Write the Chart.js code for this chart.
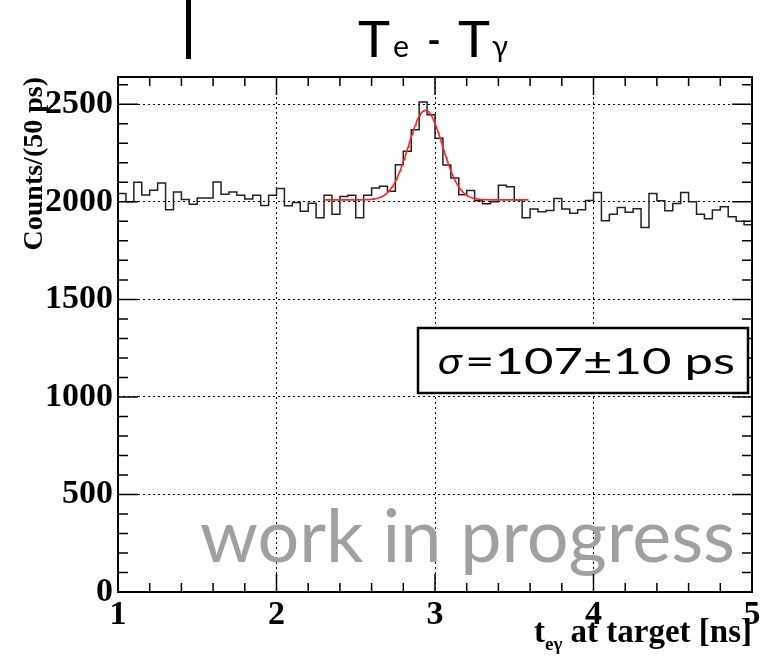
<!DOCTYPE html>
<html>
<head>
<meta charset="utf-8">
<script src="https://cdn.jsdelivr.net/npm/chart.js@4.4.1/dist/chart.umd.min.js"></script>
<style>
  html, body { margin: 0; padding: 0; background: #fff; }
  #wrap { width: 766px; height: 656px; }
</style>
</head>
<body>
<div id="wrap"><canvas id="c" width="766" height="656"></canvas></div>
<script>
// t_eγ at target, 50 ps bins from 1 to 5 ns
const binStart = 1.0;
const binWidth = 0.05;
const counts = [
  2043, 2000, 2100, 2035, 2060, 2097, 1960, 2050, 2012, 1988,
  2020, 2020, 2102, 2039, 2050, 2034, 2014, 2034, 1981, 2034,
  2068, 1980, 1997, 1952, 1993, 1918, 2034, 1937, 2027, 2034,
  1918, 2034, 2071, 2080, 2054, 2190, 2260, 2370, 2512, 2447,
  2326, 2189, 2122, 2036, 2058, 2005, 1990, 2000, 2085, 2077,
  2010, 1918, 1963, 1949, 1956, 2017, 1963, 1941, 1959, 2007,
  2048, 1903, 1937, 1971, 1947, 1964, 1869, 2043, 2005, 1954,
  1991, 2048, 2000, 1937, 1913, 1958, 1975, 1924, 1900, 1883
];

// gaussian + flat background fit
const fitRange = [2.3, 3.59];
const fitConst = 2010;
const fitAmp = 459;
const fitMean = 2.94;
const fitSigma = 0.107; // ns, quoted as 107 ps

const xTicks = [1, 2, 3, 4, 5];
const yTicks = [0, 500, 1000, 1500, 2000, 2500];
const xMinorStep = 0.2;
const yMinorStep = 100;
const yMax = 2640;

// histogram outline: one point per left bin edge, plus the closing edge
const histPoints = counts.map((c, i) => ({ x: binStart + i * binWidth, y: c }));
histPoints.push({ x: binStart + counts.length * binWidth, y: counts[counts.length - 1] });

const fitPoints = [];
for (let x = fitRange[0]; x <= fitRange[1] + 1e-9; x += 0.005) {
  const d = (x - fitMean) / fitSigma;
  fitPoints.push({ x: x, y: fitConst + fitAmp * Math.exp(-0.5 * d * d) });
}

const serif = '"Liberation Serif", "Times New Roman", serif';
const sans = 'Lato, "DejaVu Sans", sans-serif';

// draw text squeezed/stretched horizontally to a given width
function fitText(ctx, text, x, y, width) {
  const w = ctx.measureText(text).width;
  ctx.save();
  ctx.translate(x, y);
  ctx.scale(width / w, 1);
  ctx.fillText(text, 0, 0);
  ctx.restore();
}

// frame, inside ticks and the text blocks around the plot
const decor = {
  id: 'decor',
  beforeDatasetsDraw(chart) {
    const ctx = chart.ctx;
    ctx.save();
    ctx.fillStyle = '#a0a0a0';
    ctx.font = '74px ' + sans;
    ctx.textBaseline = 'alphabetic';
    ctx.textAlign = 'left';
    fitText(ctx, 'work in progress', 200, 562, 535);
    ctx.restore();
  },
  afterDatasetsDraw(chart) {
    const ctx = chart.ctx;
    const a = chart.chartArea;
    const xs = chart.scales.x, ys = chart.scales.y;
    ctx.save();

    // inside tick marks on all four sides
    ctx.strokeStyle = '#000';
    ctx.lineWidth = 1.5;
    ctx.beginPath();
    for (let v = xs.min; v <= xs.max + 1e-9; v += xMinorStep) {
      const px = xs.getPixelForValue(v);
      const major = xTicks.some(t => Math.abs(t - v) < 1e-6);
      const len = major ? 18 : 9;
      ctx.moveTo(px, a.bottom); ctx.lineTo(px, a.bottom - len);
      ctx.moveTo(px, a.top); ctx.lineTo(px, a.top + len);
    }
    for (let v = 0; v <= yMax; v += yMinorStep) {
      const py = ys.getPixelForValue(v);
      const len = v % 500 === 0 ? 20 : 10;
      ctx.moveTo(a.left, py); ctx.lineTo(a.left + len, py);
      ctx.moveTo(a.right, py); ctx.lineTo(a.right - len, py);
    }
    ctx.stroke();

    // frame
    ctx.lineWidth = 2;
    ctx.strokeRect(a.left, a.top, a.right - a.left, a.bottom - a.top);

    // fit result box
    ctx.fillStyle = '#fff';
    ctx.fillRect(418, 328, 330, 65);
    ctx.lineWidth = 2.5;
    ctx.strokeRect(418, 328, 330, 65);
    ctx.fillStyle = '#000';
    ctx.textBaseline = 'alphabetic';
    ctx.textAlign = 'left';
    ctx.font = 'italic 37px ' + sans;
    fitText(ctx, 'σ', 438, 374, 24);
    ctx.font = '37px ' + sans;
    fitText(ctx, '=107±10 ps', 465, 374, 270);

    // histogram title
    ctx.font = '50px ' + sans;
    fitText(ctx, 'T', 358, 57, 32);
    fitText(ctx, 'T', 458, 57, 32);
    fitText(ctx, '-', 427, 57, 14);
    ctx.font = '30px ' + sans;
    fitText(ctx, 'e', 393, 57, 16);
    fitText(ctx, 'γ', 492, 57, 16);

    // left-over edge of the neighbouring pad
    ctx.fillRect(186, 0, 5, 59);

    // x axis title with subscript
    const mainFont = 'bold 33px ' + serif;
    const subFont = 'bold 19px ' + serif;
    ctx.font = mainFont;
    const wT = ctx.measureText('t').width;
    const wRest = ctx.measureText(' at target [ns]').width;
    ctx.font = subFont;
    const wSub = ctx.measureText('eγ').width;
    const x0 = a.right - (wT + wSub + wRest);
    const base = 642;
    ctx.font = mainFont;
    ctx.fillText('t', x0, base);
    ctx.font = subFont;
    ctx.fillText('eγ', x0 + wT, base + 8);
    ctx.font = mainFont;
    ctx.fillText(' at target [ns]', x0 + wT + wSub, base);

    ctx.restore();
  }
};

new Chart(document.getElementById('c').getContext('2d'), {
  type: 'line',
  data: {
    datasets: [{
      data: fitPoints,
      borderColor: '#ff2424',
      borderWidth: 1.6,
      pointRadius: 0,
      fill: false,
      order: 0
    }, {
      data: histPoints,
      borderColor: '#222',
      borderWidth: 1.5,
      pointRadius: 0,
      stepped: 'before',
      fill: false,
      order: 1
    }]
  },
  options: {
    responsive: false,
    animation: false,
    layout: { padding: { top: 77, right: 14, left: 0, bottom: 0 } },
    plugins: { legend: { display: false }, tooltip: { enabled: false } },
    scales: {
      x: {
        type: 'linear',
        min: 1,
        max: 5,
        afterBuildTicks: s => { s.ticks = xTicks.map(v => ({ value: v })); },
        afterFit: s => { s.height = 64; },
        grid: { color: '#000', lineWidth: 1, drawTicks: false },
        border: { display: false, dash: [2, 3] },
        ticks: {
          color: '#000',
          padding: 3,
          maxRotation: 0,
          callback: v => String(v),
          font: { family: serif, size: 34, weight: 'bold' }
        }
      },
      y: {
        type: 'linear',
        min: 0,
        max: yMax,
        afterBuildTicks: s => { s.ticks = yTicks.map(v => ({ value: v })); },
        afterFit: s => { s.width = 118; },
        grid: { color: '#000', lineWidth: 1, drawTicks: false },
        border: { display: false, dash: [2, 3] },
        ticks: {
          color: '#000',
          padding: 5,
          callback: v => String(v),
          font: { family: serif, size: 34, weight: 'bold' }
        },
        title: {
          display: true,
          text: 'Counts/(50 ps)',
          align: 'end',
          color: '#000',
          padding: { top: 18, bottom: 0 },
          font: { family: serif, size: 28, weight: 'bold' }
        }
      }
    }
  },
  plugins: [decor]
});
</script>
</body>
</html>
